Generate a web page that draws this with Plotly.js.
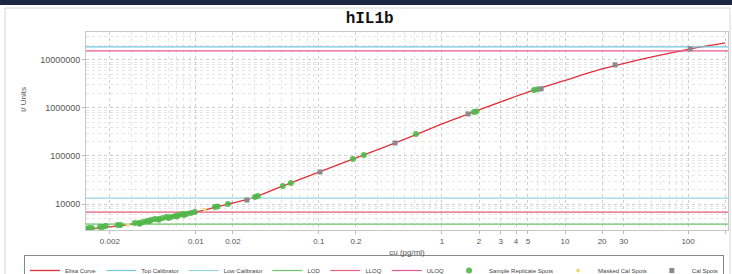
<!DOCTYPE html>
<html>
<head>
<meta charset="utf-8">
<script src="https://cdn.plot.ly/plotly-3.0.1.min.js"></script>
<style>html,body{margin:0;padding:0;background:#fff;}#chart{width:732px;height:274px;}</style>
</head>
<body>
<div id="chart"></div>
<script>
// ---- data ----
const xRange = [0.00128, 211];            // axis extent (pg/ml)
const yRange = [2880, 38000000];          // axis extent (units)

const curveX = [0.00128, 0.002, 0.003, 0.005, 0.007, 0.01, 0.015, 0.02, 0.03, 0.05, 0.1, 0.2, 0.5, 1, 2, 5, 10, 20, 50, 100, 200];
const curveY = [3000, 3350, 3800, 4700, 5700, 6800, 8800, 10500, 13800, 23300, 46000, 91000, 225000, 464000, 910000, 2140000, 3750000, 6460000, 11400000, 16600000, 22600000];

const topCalibrator = 18600000;
const uloq = 15400000;
const lowCalibrator = 13300;
const lloq = 6800;
const lod = 3830;

const sampleX = [0.00128, 0.00135, 0.00143, 0.00166, 0.00175, 0.00185, 0.00232, 0.00244, 0.00319, 0.00345, 0.00373, 0.0040, 0.00431, 0.00464, 0.0050, 0.00539, 0.00581, 0.0063, 0.0068, 0.0073, 0.0078, 0.0084, 0.0091, 0.0098,
                 0.0035, 0.0042, 0.0050, 0.0060, 0.0070, 0.0080,
                 0.01426, 0.0150, 0.0182, 0.0302, 0.0319, 0.0509, 0.0592, 0.189, 0.232, 0.615, 1.82, 1.90, 5.6, 6.0];
const sampleY = [3010, 3160, 3160, 3320, 3320, 3480, 3650, 3650, 4020, 4020, 4220, 4420, 4640, 4870, 4870, 5110, 5360, 5360, 5620, 5900, 6190, 6190, 6490, 6810,
                 3900, 4400, 4700, 5100, 5500, 5900,
                 8660, 8900, 10000, 14000, 14700, 23700, 27400, 86600, 105000, 287000, 826000, 840000, 2370000, 2450000];

const calX = [0.026, 0.102, 0.415, 1.63, 6.4, 25.5, 104];
const calY = [12100, 46400, 186000, 750000, 2500000, 7870000, 16900000];

const maskedX = [0.0028, 0.0118];
const maskedY = [3720, 7600];

const xTickVals = [0.002, 0.01, 0.02, 0.1, 0.2, 1, 2, 3, 4, 5, 10, 20, 30, 100, 200];
const xTickText = ['0.002', '0.01', '0.02', '0.1', '0.2', '1', '2', '3', '4', '5', '10', '20', '30', '100', '200'];
const yTickVals = [10000, 100000, 1000000, 10000000];
const yTickText = ['10000', '100000', '1000000', '10000000'];

// ---- traces ----
const hline = (v, name, color) => ({
  x: xRange, y: [v, v], mode: 'lines', name: name, type: 'scatter',
  line: {color: color, width: 1.2}, hoverinfo: 'skip'
});

const traces = [
  {x: curveX, y: curveY, mode: 'lines', name: 'Elisa Curve', line: {color: '#e0303a', width: 1.3, shape: 'spline', smoothing: 0.6}},
  hline(topCalibrator, 'Top Calibrator', '#74c6de'),
  hline(lowCalibrator, 'Low Calibrator', '#94d4dc'),
  hline(lod, 'LOD', '#6cc46c'),
  hline(lloq, 'LLOQ', '#e4607e'),
  hline(uloq, 'ULOQ', '#e45a8e'),
  {x: sampleX, y: sampleY, mode: 'markers', name: 'Sample Replicate Spots', marker: {color: '#4fb848', size: 6, opacity: 0.9}},
  {x: maskedX, y: maskedY, mode: 'markers', name: 'Masked Cal Spots', marker: {color: '#e6e07a', size: 4}},
  {x: calX, y: calY, mode: 'markers', name: 'Cal Spots', marker: {color: '#8a8a8a', size: 5, symbol: 'square'}}
];

const logR = r => r.map(v => Math.log10(v));

const layout = {
  width: 732, height: 274,
  margin: {l: 86, r: 4, t: 32, b: 44, autoexpand: false},
  paper_bgcolor: '#ffffff', plot_bgcolor: '#ffffff',
  font: {family: 'Liberation Sans, Arial, sans-serif', size: 8, color: '#555'},
  title: {text: '<b>hIL1b</b>', font: {family: 'Liberation Mono, Courier New, monospace', size: 16, color: '#111'}, x: 0.505, xanchor: 'center', y: 0.938, yanchor: 'middle'},
  xaxis: {
    type: 'log', range: logR(xRange), tickvals: xTickVals, ticktext: xTickText,
    tickfont: {size: 8, color: '#555'}, ticks: 'outside', ticklen: 3, tickcolor: '#bbb',
    showline: true, linecolor: '#c8c8c8', mirror: true, zeroline: false,
    showgrid: true, gridcolor: '#cfcfcf', griddash: 'dot', gridwidth: 1,
    minor: {dtick: 'D1', showgrid: true, gridcolor: '#e6e6e6', griddash: 'dot', ticks: ''},
    title: {text: 'cu (pg/ml)', font: {size: 8, color: '#555'}, standoff: 4}
  },
  yaxis: {
    type: 'log', range: logR(yRange), tickvals: yTickVals, ticktext: yTickText,
    tickfont: {size: 9, color: '#555'}, ticks: 'outside', ticklen: 3, tickcolor: '#bbb',
    showline: true, linecolor: '#c8c8c8', mirror: true, zeroline: false,
    showgrid: true, gridcolor: '#cfcfcf', griddash: 'dot', gridwidth: 1,
    minor: {dtick: 'D1', showgrid: true, gridcolor: '#e6e6e6', griddash: 'dot', ticks: ''}
  },
  annotations: [{
    text: 'I/ Units', textangle: -90, xref: 'paper', yref: 'paper',
    x: (23 - 86) / 642, y: (230 - 100) / 198, xanchor: 'center', yanchor: 'middle',
    showarrow: false, font: {size: 8, color: '#555'}
  }],
  shapes: [
    {type: 'rect', xref: 'paper', yref: 'paper', x0: -0.2, x1: 1.01, y0: (230 - 5) / 198, y1: (230 + 0) / 198 + 0.02, fillcolor: '#1d2742', line: {width: 0}, layer: 'below'},
    {type: 'rect', xref: 'paper', yref: 'paper', x0: (5 - 86) / 642, x1: (730 - 86) / 642, y0: (230 - 280) / 198, y1: (230 - 8) / 198, fillcolor: 'rgba(0,0,0,0)', line: {width: 1, color: '#d6d6d6'}, layer: 'below'}
  ],
  showlegend: true,
  legend: {
    orientation: 'h',
    x: (24 - 86) / 642, xanchor: 'left', y: -(255 - 230) / 198, yanchor: 'top',
    font: {size: 6, color: '#444'}, bordercolor: '#888', borderwidth: 1, bgcolor: '#fff',
    itemwidth: 30, tracegroupgap: 0, traceorder: 'normal'
  }
};

Plotly.newPlot('chart', traces, layout, {displayModeBar: false, staticPlot: true});
</script>
</body>
</html>
